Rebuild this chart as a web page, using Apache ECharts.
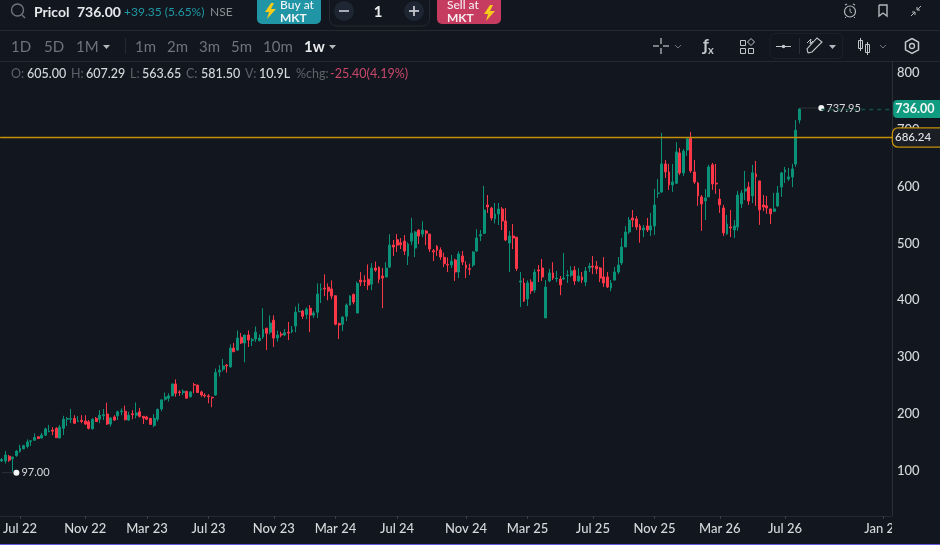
<!DOCTYPE html>
<html><head><meta charset="utf-8">
<style>html,body{margin:0;padding:0;background:#12161e}#c{width:940px;height:545px}</style>
<script src="https://cdn.jsdelivr.net/npm/echarts@6/dist/echarts.min.js"></script>
</head><body><div id="c"></div>
<script>
// rows: [open, close, low, high]
const candles2022 = [[117.5,120,116,123],[117.5,128,113,135],[126,119,116,128],[121.5,124.5,99,125],[127,135,125,137],[134.5,140,132,146],[139,144.5,138,146],[143,151,140,155.5],[152,153,144,154],[154,159,154,166],[160,157,156,161],[158,163,157,167],[163,174,161.5,176],[169,170,168.5,181],[172,170,163,177],[175,158.5,158,177],[158,177,157,181],[175,191,163,197],[191,192,179,195],[191,192,184,209],[192.5,184,182.5,198],[187,188,186,196.5],[189,187,184,198],[188,182.5,181,198],[186.5,175,173,189.5],[174,191,173,192.5],[192.5,187,186,195],[191,198,184,207],[197,199,189.5,209],[200,182.5,181,220],[182.5,193,178,195],[195,189.5,188,198],[197,204,189.5,206],[204,205.5,198,210],[205,190,189,215],[189.5,198,188,204],[200.5,199,191,207],[198,202,192.5,220.5],[204,196,194,211],[196,193,182.5,196],[195,191,189.5,197],[192.5,182,181,193],[180,192.5,177,200],[191,208,187,210],[209,225,205,225],[226,230,223.5,238],[228,232,222,236.5],[232,253,232,253],[253,236.5,230.5,261],[239,238,232,242],[238,240,233.5,243.5],[240,228,226.5,241],[230.5,239,229,240],[252,251,236.5,255],[251,238,237,251],[239,233.5,230.5,241],[233.5,232,229,236.5],[232,230.5,219,235],[229.5,228.5,212,230.5],[233.5,273,232,280],[274,277,266,286],[279,284.5,275,297],[286,284.5,273,288],[283,316,281.5,322.5]];
const candles2023 = [[316,309.6,309,325],[312.5,333.6,311,347],[335,325,323,342.5],[325,339,291,339],[339,330,318,347],[329,331,319.5,334],[332,344,327,354],[329,333.6,328,340],[335.4,349,332,386],[351,342,312.5,351],[344,360,340,373.5],[365,333.6,318,373.5],[333.6,339,327,347],[340.6,339,335,345],[339,343,337,349.5],[344,342.4,330,362],[345,347.7,342,354.7],[354.7,379,344,389],[380,380.5,379,394.5],[381,372,367,383],[375,384.6,367,387.5],[386,374,344,391.6],[374,377.6,369,381],[379,411,369,429.7],[418.6,420,395,429.7],[421.5,420,407.4,445.5],[423,416,400,429.7],[420,407.4,402,435],[408,358,356,408.6],[359,356.5,332,361],[358,370.5,346,371.7],[372,391.6,363.5,394.5],[391.6,407.4,391,409],[410.4,397,393,412],[377.6,429.7,377.6,433],[435.6,432,425,449.6],[434.4,433,425,444],[437,426.8,418,463],[428.5,456.6,418,465.4],[456.6,453,450,468],[458,437,430,459.6],[442.6,439,386,456.6],[440.8,456.6,440.8,467],[458.4,497,456.6,516],[497,493.5,478,506],[506.4,497,484.8,516.4],[501,497.6,490,509.4],[504,486.5,479.5,514.6],[477.7,498.8,462,501.8],[504,518,497,545],[491.8,520,476,521.7],[523.4,513,499,525],[516.4,523.4,511,539],[521.7,518,497,523.4],[516.4,490,484.8,516.4],[487,485,469,490],[495,488,478,497]];
const candles2024 = [[488.4,476,471,493],[475.5,464.4,458.5,483.7],[463,462,449.7,475.5],[462,468.5,456.8,479.6],[470.8,449.7,434,473],[449.7,481.4,439,486],[477.9,467.3,462,486.6],[462,456.8,439,468.5],[455.6,454.4,444.5,464.4],[462,485,458.5,486],[486.6,509.5,485,524.7],[513,515.4,504,523.5],[517.7,558.7,516.5,601],[567.5,564,553.4,585],[562,544.6,540,564],[543,551.7,535,571],[551.7,560.5,532.3,571],[560.5,539.4,523.6,564],[539.4,506,504,562],[500.7,513,449.7,521.8],[513,509.5,490,534],[511,455.6,451.5,511],[432,434,388,449.7],[430.4,398.8,397,439],[402.3,430.4,390,435],[432,416.4,411,436.9],[418,449.7,413,455],[453.3,451.5,432,462],[456.8,441,434,472.6],[369,423.4,369,435.7],[434,448,432,455],[448,439,435.7,467],[438,439,432,451.5],[437.4,427,409,442.7],[437.4,439,435.7,483],[443.3,444.5,430.4,453],[444,451.5,441,460],[453,434,427,460],[434,442.7,432,456.8],[441,435.7,430.4,449.7],[432,451.5,425,458.5],[456.8,460,449.7,465.6],[460,458.5,446,477.9],[460,455,446,469],[456.8,439,432,458.5],[441,430.4,423.4,476],[441,423.4,421.6,449.7],[421.6,430.4,416,435.7],[435.7,449.7,434,458.5],[449.7,462,446,476],[465.6,493.7,462,509.5],[493.7,520,493.7,530.6],[520,541,516.5,546.4],[544.6,541,528.8,558.7],[543,528.8,523.6,548]];
const candles2025 = [[530.7,523.7,501,534],[523.7,527,511,532.5],[530.7,523.7,520,544.8],[523.7,530.7,513,553.6],[530.7,567.6,515,595.7],[587.5,588.7,580,613],[590.5,639.7,588.7,694],[639.7,625.6,615,646.7],[625.6,602.8,594,639.7],[602.8,608,590.5,639.7],[605.7,660.8,604.5,678],[659,623.9,620,667.8],[623.9,662,618.6,666],[664,683.6,653.7,685],[685,627.4,624,696],[625.6,608,604.5,646.7],[606,583.4,566,608],[581.7,569.4,522,585],[574.6,580,541,595.7],[581.7,634.4,581.7,638],[638,604.5,594,641.4],[606,604.5,587,639.7],[578,567.6,553.6,595.7],[562.3,518.4,513,567.6],[516.7,534,515,550],[529,527,511,558.8],[523.7,530.7,509.6,541],[529,585,522,592],[569.4,588.7,562,594],[592,595.7,576,627.4],[599,574.6,567.6,608],[583.4,624,571,638],[622,617,566,645],[609.8,559,532.5,609.8],[567.6,564,557,585],[566,562.3,552,583.4],[560.6,551.8,534,560.6],[556.5,560.6,555.3,588.7],[565.9,588.7,564,601],[599,623.9,581.7,625.6],[625.6,629,606,634.4],[613.3,616.8,609.8,632.6],[616.8,630.9,599,639.7],[639.4,699,634.6,716.7],[716.7,736,710.8,737.95]];
const tickLabels = ['Jul 22','Nov 22','Mar 23','Jul 23','Nov 23','Mar 24','Jul 24','Nov 24','Mar 25','Jul 25','Nov 25','Mar 26','Jul 26','Jan 27'];
const tickWeeks = [5,23,40,57,75,92,109,128,145,163,180,198,216,243];
const yTicks = [100,200,300,400,500,600,700,800];
const weekSlots = 246;
const lastPrice = 736.00, alertLevel = 686.24, periodHigh = 737.95, periodLow = 97.00;

const candles = [].concat(candles2022,candles2023,candles2024,candles2025);
const categories = Array.from({length:weekSlots},(_,i)=>{const k=tickWeeks.indexOf(i);return k>=0?tickLabels[k]:'w'+i;});
const BG='#12161e',LINE='#24282f',TXT='#d6d8dc',GREEN='#0a9279',RED='#fb3748',GOLD='#c4900a';
const FONT='Lato';
const els=[];
const T=(x,y,t,s,c,w,a)=>els.push({type:'text',x,y,z:100,silent:true,style:{text:t,fill:c,font:`${w||400} ${s}px ${FONT}`,textAlign:a||'left',textVerticalAlign:'middle'}});
const L=(a,b,c,d,col,w)=>els.push({type:'line',z:100,silent:true,shape:{x1:a,y1:b,x2:c,y2:d},style:{stroke:col,lineWidth:w||1}});
const C=(x,y,r,st,fi,w)=>els.push({type:'circle',z:100,silent:true,shape:{cx:x,cy:y,r},style:{stroke:st||null,fill:fi||'none',lineWidth:w||1}});
const R=(x,y,wd,h,r,st,fi,w)=>els.push({type:'rect',z:100,silent:true,shape:{x,y,width:wd,height:h,r},style:{stroke:st||null,fill:fi||'none',lineWidth:w||1}});
const PG=(pts,fi)=>els.push({type:'polygon',z:100,silent:true,shape:{points:pts},style:{fill:fi}});
const PL=(pts,st,w)=>els.push({type:'polyline',z:100,silent:true,shape:{points:pts},style:{stroke:st,fill:'none',lineWidth:w||1}});

// panels
R(892,516.5,48,29,0,null,BG);
R(0,544,940,1,0,null,'#6259d6');
L(0,30.5,940,30.5,LINE); L(0,61.5,940,61.5,LINE);
// search
C(17.5,10,6,'#70747c',null,1.4); L(22,15,25,18,'#70747c',1.4);
T(34,12,'Pricol',14,'#e8e9eb',700); T(77,12,'736.00',14,'#e8e9eb',700);
T(124,12,'+39.35 (5.65%)',12,'#1f9aa6'); T(210,12,'NSE',12,'#8a8e95');
// buy
R(257,-6,64,30,5,null,'#2095a6');
const bolt=(x,y,c)=>PG([[x+6,y],[x,y+9],[x+4,y+9],[x+2,y+16],[x+11,y+6],[x+6,y+6],[x+9,y]],c);
bolt(265,3,'#f5cc1c');
T(280,5,'Buy at',12,'#f0f5f6',500); T(280,18,'MKT',12,'#f0f5f6',700);
// qty
R(329.5,-6,100,32,7,LINE,null);
C(344,11,10,null,'#1f2633'); L(339,11,349,11,'#a6abb3',2);
T(378,12,'1',15,'#eceded',700,'center');
C(414,11,10,null,'#1f2633'); L(409,11,419,11,'#c4c8cd',1.8); L(414,6,414,16,'#c4c8cd',1.8);
// sell
R(437,-6,64,30,5,null,'#c63c60');
T(447,5,'Sell at',12,'#f6ecef',500); T(447,18,'MKT',12,'#f6ecef',700);
bolt(484,5,'#f5cc1c');
// top right icons
const ic='#b4b7bd';
C(850,11.5,5.5,ic,null,1.2); L(850,8.5,850,11.5,ic); L(850,11.5,852,13,ic); L(845,5,847,4,ic,1.2); L(853,4,855,5,ic,1.2); L(846,17,845,18,ic); L(854,17,855,18,ic);
PL([[879,5],[887,5],[887,16],[883,13],[879,16],[879,5]],ic,1.4);
L(911,16,915,12,ic); PL([[912,12],[915,12],[915,15]],ic); L(921,6,917,10,ic); PL([[917,7],[917,10],[920,10]],ic);
// timeframes
[['1D',11],['5D',44],['1M',76],['1m',135],['2m',167],['3m',199],['5m',231],['10m',263]].forEach(a=>T(a[1],47,a[0],15,'#6f737b',400));
T(304,47,'1w',15,'#e8e9eb',700);
PG([[103,45],[110,45],[106.5,49]],'#b5b8bd'); PG([[329,45],[336,45],[332.5,49]],'#b5b8bd');
L(125.5,38,125.5,54,LINE);
// tools
const ti='#c3c6cb';
L(653,46,659,46,ti,1.2);L(663,46,669,46,ti,1.2);L(661,38,661,44,ti,1.2);L(661,48,661,54,ti,1.2);
PL([[675,45],[678,48],[681,45]],'#6f737b',1);
T(703,46,'ƒ',17,ti,700);T(708,50,'x',11,ti,700);
R(740.5,40.5,5,5,0,ti,null);R(740.5,48.5,5,5,0,ti,null);R(748.5,48.5,5,5,0,ti,null);PL([[751,38.5],[754.5,42],[751,45.5],[747.5,42],[751,38.5]],ti,1);
R(770,33.5,72.5,25,5,'#1c2028',null);
L(776,46.5,791,46.5,ti,1);C(783.5,46.5,1.8,null,ti);L(799.5,38,799.5,54,'#2a2e36');
PL([[808,53],[807,49],[817,38],[822,42],[812,52],[808,53]],ti,1.1);PL([[807,43],[811,39],[810,44],[813,41]],ti,1);
PG([[829,45],[836,45],[832.5,49]],'#b5b8bd');
R(858.5,40.5,4,8,0,ti,null);L(860.5,38,860.5,51,ti);R(865.5,44.5,4,8,0,ti,null);L(867.5,42,867.5,55,ti);
PL([[880,45],[883,48],[886,45]],'#6f737b',1);
C(912,46,2.5,ti,null,1.3);
PL([[912,38.5],[918.5,42.2],[918.5,49.8],[912,53.5],[905.5,49.8],[905.5,42.2],[912,38.5]],ti,1.5);
// ohlc legend
const lg=[[11,'O:',0],[27,'605.00',1],[71,'H:',0],[86,'607.29',1],[130,'L:',0],[142,'563.65',1],[186,'C:',0],[201,'581.50',1],[245,'V:',0],[259,'10.9L',1],[296,'%chg:',0]];
lg.forEach(a=>T(a[0],74,a[1],12.5,a[2]?TXT:'#5d6168',a[2]?500:400));
T(330,74,'-25.40(4.19%)',12.5,'#c8486a',400);

const lineSeries=(data)=>({type:'line',data,silent:true,animation:false,z:4,showSymbol:true,showAllSymbol:true,lineStyle:{color:'#2e3239',width:1},symbolSize:4,itemStyle:{color:'#f2f3f4'}});
const chart=echarts.init(document.getElementById('c'),null,{renderer:'canvas'});
chart.setOption({
 animation:false,backgroundColor:BG,
 grid:{left:0,right:48,top:62,height:454},
 tooltip:{show:false},
 xAxis:{type:'category',data:categories,boundaryGap:true,
  axisLine:{lineStyle:{color:LINE}},
  axisTick:{show:true,alignWithLabel:true,length:3,interval:(i)=>tickWeeks.includes(i),lineStyle:{color:'#3a3e46'}},
  splitLine:{show:false},
  axisLabel:{interval:(i)=>tickWeeks.includes(i),color:TXT,fontFamily:FONT,fontSize:13,fontWeight:500,margin:6}},
 yAxis:{type:'value',position:'right',min:20.9,max:818.8,
  axisLine:{show:true,lineStyle:{color:'#2b2f37'}},axisTick:{show:false},splitLine:{show:false},
  axisLabel:{customValues:yTicks,color:TXT,fontFamily:FONT,fontSize:13,fontWeight:500,margin:5,align:'left',padding:[2,0,0,0]}},
 series:[
  {type:'candlestick',data:candles,barWidth:2.4,silent:true,z:3,
   itemStyle:{color:GREEN,color0:RED,borderColor:GREEN,borderColor0:RED,borderWidth:1}},
  {type:'line',data:[],silent:true,z:6,
   markLine:{silent:true,symbol:'none',animation:false,
    data:[
    {yAxis:alertLevel,lineStyle:{color:GOLD,width:1.3,type:'solid',opacity:1},
     label:{show:true,position:'end',distance:1,formatter:String(alertLevel),color:'#e4e5e7',fontFamily:FONT,fontSize:11.5,fontWeight:500,
      backgroundColor:'#1b1e25',borderColor:GOLD,borderWidth:1.3,borderRadius:[5,0,0,5],padding:[4,12,3,2],width:46,height:11,align:'left',lineHeight:11}},
    [{coord:[226,lastPrice],lineStyle:{color:'#0f5348',width:1.4,type:[4,4],opacity:1},
      label:{show:true,position:'end',distance:3,formatter:lastPrice.toFixed(2),color:'#f2f7f5',fontFamily:FONT,fontSize:12.5,fontWeight:700,
       backgroundColor:'#0f9c80',borderRadius:[4,0,0,4],padding:[3,10,3,2],width:47,height:12,align:'left',lineHeight:12}},
     {coord:[weekSlots-1,lastPrice]}]
   ]}},
  lineSeries([{value:[candles.length-1,periodHigh],symbol:'none'},{value:[candles.length+5,periodHigh],
    label:{show:true,position:'right',distance:2,formatter:periodHigh.toFixed(2),color:TXT,fontFamily:FONT,fontSize:11}}]),
  lineSeries([{value:[0,periodLow],symbol:'none'},{value:[4,periodLow],
    label:{show:true,position:'right',distance:2,formatter:periodLow.toFixed(2),color:TXT,fontFamily:FONT,fontSize:11}}])
 ],
 graphic:{elements:els}
});
</script></body></html>
